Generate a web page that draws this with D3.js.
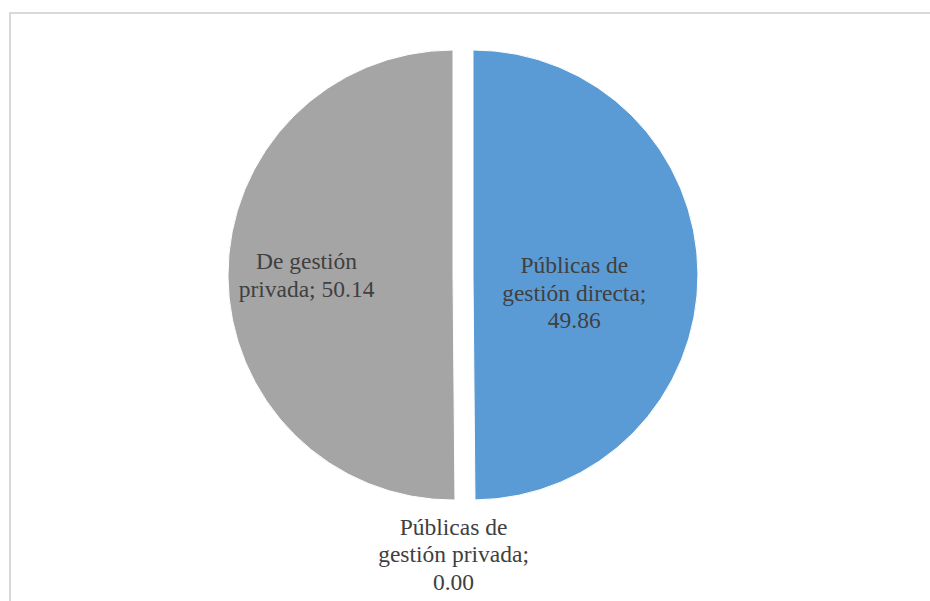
<!DOCTYPE html>
<html>
<head>
<meta charset="utf-8">
<script src="https://cdn.jsdelivr.net/npm/d3@7/dist/d3.min.js"></script>
<style>
  html, body { margin: 0; padding: 0; background: #fff; }
  svg { display: block; }
  .lbl { font-family: "Liberation Serif", "Times New Roman", Times, serif; }
</style>
</head>
<body>
<svg id="chart" width="930" height="601"></svg>
<script>
// Slice data
const categories = ["Públicas de gestión directa", "Públicas de gestión privada", "De gestión privada"];
const values = [49.86, 0.00, 50.14];
const colors = ["#5B9BD5", "#ED7D31", "#A5A5A5"];
// Label text split into lines
const labelLines = [
  ["Públicas de", "gestión directa;", "49.86"],
  ["Públicas de", "gestión privada;", "0.00"],
  ["De gestión", "privada; 50.14"]
];
// Label anchor: distance from centre as a fraction of the radius, plus a nudge
const labelRadiusFrac = [0.45, 1.24, 0.66];
const labelNudgeX = [0, -12, 2];
const labelNudgeY = [18, 0, -1];

const width = 930, height = 601;
const cx = 463, cy = 275, radius = 225, explode = 10;

const svg = d3.select("#chart");

// Chart-area frame
svg.append("rect")
  .attr("x", 10).attr("y", 13)
  .attr("width", 940).attr("height", 620)
  .attr("fill", "none")
  .attr("stroke", "#D9D9D9")
  .attr("stroke-width", 2);

const pie = d3.pie().sort(null).value(d => d)(values);
const arc = d3.arc().innerRadius(0).outerRadius(radius);

const g = svg.append("g").attr("transform", `translate(${cx},${cy})`);

// Slices, each pushed outward along its bisector
g.selectAll("path.slice")
  .data(pie)
  .join("path")
  .attr("class", "slice")
  .attr("d", arc)
  .attr("fill", (d, i) => colors[i])
  .attr("stroke", "#fff")
  .attr("stroke-width", 1)
  .attr("transform", d => {
    const a = (d.startAngle + d.endAngle) / 2;
    return `translate(${explode * Math.sin(a)},${-explode * Math.cos(a)})`;
  });

// Data labels
const fontSize = 23.5, lineH = 27.5;
pie.forEach((d, i) => {
  const a = (d.startAngle + d.endAngle) / 2;
  const r = radius * labelRadiusFrac[i];
  const x = (r + explode) * Math.sin(a) + labelNudgeX[i];
  const y = -r * Math.cos(a) + labelNudgeY[i];
  const lines = labelLines[i];
  const t = g.append("text")
    .attr("class", "lbl")
    .attr("text-anchor", "middle")
    .style("font-size", fontSize + "px")
    .attr("fill", "#404040");
  const top = y - (lines.length - 1) * lineH / 2;
  lines.forEach((s, k) => {
    t.append("tspan")
      .attr("x", x)
      .attr("y", top + k * lineH)
      .attr("dy", "0.35em")
      .text(s);
  });
});
</script>
</body>
</html>
